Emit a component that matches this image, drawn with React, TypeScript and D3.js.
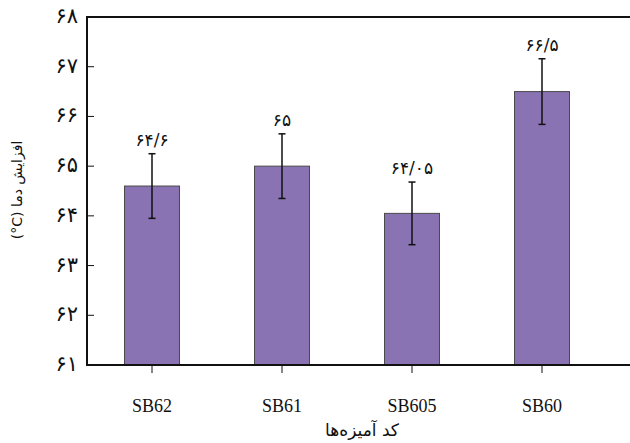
import React from "react";
import * as d3 from "d3";

const categories = ["SB62", "SB61", "SB605", "SB60"];
const values = [64.6, 65.0, 64.05, 66.5];
const errors = [0.65, 0.65, 0.63, 0.66];
const valueLabels = ["۶۴/۶", "۶۵", "۶۴/۰۵", "۶۶/۵"];
const yTicks = [61, 62, 63, 64, 65, 66, 67, 68];
const yTickLabels = ["۶۱", "۶۲", "۶۳", "۶۴", "۶۵", "۶۶", "۶۷", "۶۸"];
const yTitle = "افزایش دما (\u200E°C\u200E)";
const xTitle = "کد آمیزه‌ها";

const W = 630;
const H = 443;
const left = 87;
const top = 17;
const bottom = 365;
const bandRight = 607;

export default function App() {
  const x = d3
    .scaleBand<string>()
    .domain(categories)
    .range([left, bandRight])
    .paddingInner(0.577)
    .paddingOuter(0.2885);
  const y = d3.scaleLinear().domain([61, 68]).range([bottom, top]);
  const persian = "DejaVu Sans";

  return (
    <svg
      width={W}
      height={H}
      style={{ position: "absolute", left: 0, top: 0, background: "#fff" }}
    >
      {/* bars */}
      {categories.map((c, i) => (
        <rect
          key={c}
          x={x(c)}
          y={y(values[i])}
          width={x.bandwidth()}
          height={y(61) - y(values[i])}
          fill="#8973b3"
          stroke="#4a4a4a"
          strokeWidth={1}
        />
      ))}
      {/* error bars */}
      {categories.map((c, i) => {
        const cx = (x(c) as number) + x.bandwidth() / 2;
        const y1 = y(values[i] + errors[i]);
        const y2 = y(values[i] - errors[i]);
        return (
          <g key={c + "e"}>
            <g stroke="#111" strokeWidth={1.5}>
              <line x1={cx} x2={cx} y1={y1} y2={y2} />
              <line x1={cx - 3.5} x2={cx + 3.5} y1={y1} y2={y1} />
              <line x1={cx - 3.5} x2={cx + 3.5} y1={y2} y2={y2} />
            </g>
            <text
              x={cx}
              y={y1 - 8}
              textAnchor="middle"
              style={{ fontFamily: persian, fontSize: 17, letterSpacing: "1px" }}
              fill="#111"
            >
              {valueLabels[i]}
            </text>
          </g>
        );
      })}
      {/* y ticks (inward) */}
      {yTicks.map((t, i) => (
        <g key={t}>
          {t !== 61 && t !== 68 && (
            <line x1={left} x2={left + 7} y1={y(t)} y2={y(t)} stroke="#111" strokeWidth={1} />
          )}
          <text
            x={78}
            y={y(t) + 6}
            textAnchor="end"
            style={{ fontFamily: persian, fontSize: 21 }}
            fill="#111"
          >
            {yTickLabels[i]}
          </text>
        </g>
      ))}
      {/* x ticks (outward) */}
      {categories.map((c) => {
        const cx = (x(c) as number) + x.bandwidth() / 2;
        return (
          <g key={c + "t"}>
            <line x1={cx} x2={cx} y1={bottom} y2={bottom + 8} stroke="#111" strokeWidth={1} />
            <text
              x={cx}
              y={bottom + 47}
              textAnchor="middle"
              style={{ fontFamily: "'Liberation Serif', serif", fontSize: 18 }}
              fill="#111"
            >
              {c}
            </text>
          </g>
        );
      })}
      {/* frame */}
      <line x1={left} x2={W} y1={top} y2={top} stroke="#111" strokeWidth={2} />
      <line x1={left} x2={W} y1={bottom} y2={bottom} stroke="#111" strokeWidth={2} />
      <line x1={left} x2={left} y1={top - 1} y2={bottom + 1} stroke="#111" strokeWidth={2} />
      {/* titles */}
      <text
        transform={`translate(22,190) rotate(-90)`}
        textAnchor="middle"
        direction="rtl"
        style={{ fontFamily: persian, fontSize: 14, direction: "rtl", unicodeBidi: "embed" }}
        fill="#111"
      >
        {yTitle}
      </text>
      <text
        x={362}
        y={436}
        textAnchor="middle"
        direction="rtl"
        style={{ fontFamily: persian, fontSize: 17, direction: "rtl", unicodeBidi: "embed" }}
        fill="#111"
      >
        {xTitle}
      </text>
    </svg>
  );
}
